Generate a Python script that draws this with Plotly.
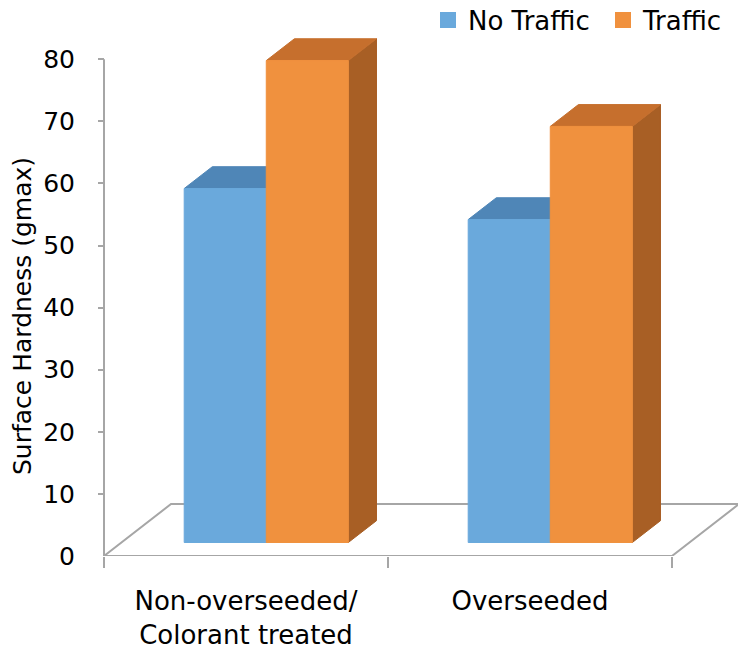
import plotly.graph_objects as go

# ---- data ----
categories = ["Non-overseeded/<br>Colorant treated", "Overseeded"]
series_names = ["No Traffic", "Traffic"]
no_traffic = [57, 52]
traffic = [77.6, 67]
y_tick_values = [0, 10, 20, 30, 40, 50, 60, 70, 80]

# ---- styling ----
FONT = "DejaVu Sans"
GRID = "#A6A6A6"
front_colors = ["#6AA9DC", "#F0913E"]
top_colors = ["#4F86B7", "#C66F2D"]
side_colors = ["#3F6E99", "#A85F25"]

# oblique "3-D" projection, expressed in axis units
DEPTH_X = 0.236      # horizontal shift across the full floor depth
DEPTH_Y = 8.37       # vertical shift across the full floor depth
BAR_W = 0.289        # width of one bar (category band = 1)
FRONT, BACK = 0.26, 0.68   # bar front / back plane as a fraction of depth

PX_X = 284.0   # pixels per category band
PX_Y = 6.21    # pixels per value unit
W, H = 738, 654
M_L, M_B = 98, 98
X_MIN = -(104 - M_L) / PX_X
X_MAX = X_MIN + (W - M_L) / PX_X
Y_MAX = (H - M_B) / PX_Y

fig = go.Figure()


def poly(xs, ys, fill, line=None, width=1):
    fig.add_trace(go.Scatter(
        x=xs + xs[:1], y=ys + ys[:1], mode="lines", fill="toself",
        fillcolor=fill, line=dict(color=line or fill, width=width),
        hoverinfo="skip", showlegend=False))


# floor of the 3-D plot
n = len(categories)
poly([0, n, n + DEPTH_X, DEPTH_X], [0, 0, DEPTH_Y, DEPTH_Y], "white", GRID, 2)

# value axis line
fig.add_trace(go.Scatter(x=[0, 0], y=[0, max(y_tick_values)], mode="lines",
                         line=dict(color=GRID, width=2), hoverinfo="skip",
                         showlegend=False))

ox0, oy0 = FRONT * DEPTH_X, FRONT * DEPTH_Y
ox1, oy1 = BACK * DEPTH_X, BACK * DEPTH_Y
series = [no_traffic, traffic]
for i in range(n):
    for s, vals in enumerate(series):
        v = vals[i]
        xl = i + 0.5 - BAR_W + s * BAR_W + 0.01
        xr = xl + BAR_W
        # right side face
        poly([xr + ox0, xr + ox1, xr + ox1, xr + ox0],
             [oy0, oy1, v + oy1, v + oy0], side_colors[s])
        # top face
        poly([xl + ox0, xr + ox0, xr + ox1, xl + ox1],
             [v + oy0, v + oy0, v + oy1, v + oy1], top_colors[s])
        # front face
        poly([xl + ox0, xr + ox0, xr + ox0, xl + ox0],
             [oy0, oy0, v + oy0, v + oy0], front_colors[s])

# legend entries
for s, name in enumerate(series_names):
    fig.add_trace(go.Scatter(x=[None], y=[None], mode="markers", name=name,
                             marker=dict(symbol="square", size=16,
                                         color=front_colors[s]),
                             xaxis="x2"))

fig.update_layout(
    width=W, height=H,
    margin=dict(l=M_L, r=0, t=0, b=M_B, autoexpand=False),
    paper_bgcolor="white", plot_bgcolor="white",
    font=dict(family=FONT, color="black"),
    xaxis=dict(range=[X_MIN, X_MAX], tickvals=list(range(n + 1)),
               ticks="outside", ticklen=11, tickwidth=2, tickcolor=GRID,
               showticklabels=False, showgrid=False, zeroline=False,
               showline=False, fixedrange=True),
    xaxis2=dict(range=[X_MIN, X_MAX], overlaying="x", anchor="y",
                side="bottom",
                tickvals=[i + 0.5 for i in range(n)], ticktext=categories,
                ticks="", showgrid=False, zeroline=False, showline=False,
                tickfont=dict(family=FONT, size=26, color="black"),
                ticklabelstandoff=27),
    yaxis=dict(range=[0, Y_MAX], tickvals=y_tick_values, ticks="inside",
               ticklen=6, tickwidth=2, tickcolor=GRID, showgrid=False,
               zeroline=False, showline=False,
               tickfont=dict(family=FONT, size=25, color="black"),
               ticklabelstandoff=22),
    legend=dict(orientation="h", x=(428 - M_L) / (W - M_L), y=1.006,
                xanchor="left", yanchor="top", entrywidth=130,
                font=dict(family=FONT, size=26, color="black"),
                bgcolor="rgba(0,0,0,0)"),
    annotations=[dict(text="Surface Hardness (gmax)", textangle=-90,
                      xref="paper", yref="paper",
                      x=(22 - M_L) / (W - M_L), y=1 - 316 / (H - M_B),
                      xanchor="center", yanchor="middle", showarrow=False,
                      font=dict(family=FONT, size=25, color="black"))],
)

fig.write_html("out.html")
